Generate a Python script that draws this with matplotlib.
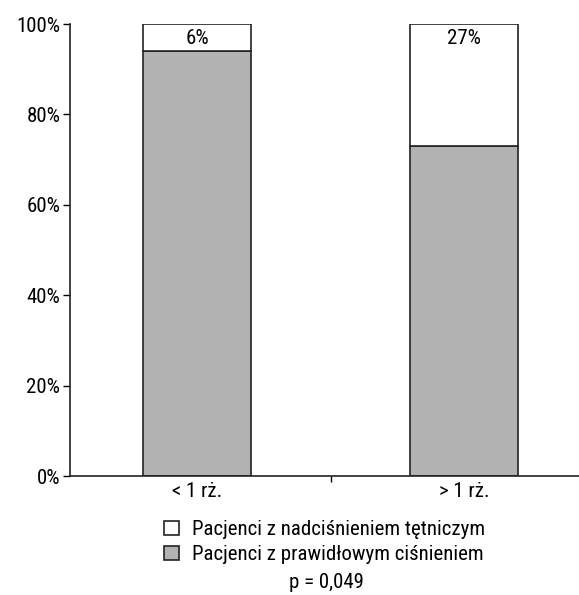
import matplotlib
matplotlib.use("Agg")
import matplotlib.pyplot as plt
from matplotlib.patches import Patch
from matplotlib.ticker import FixedLocator

plt.rcParams['font.family'] = ['Roboto Condensed', 'Archivo Narrow', 'DejaVu Sans']

categories = ["< 1 rż.", "> 1 rż."]
normal = [94, 73]
hypert = [6, 27]
labels = ["6%", "27%"]
yticks = [0, 20, 40, 60, 80, 100]
ytick_labels = ["0%", "20%", "40%", "60%", "80%", "100%"]
legend_labels = ["Pacjenci z nadciśnieniem tętniczym", "Pacjenci z prawidłowym ciśnieniem"]
p_text = "p = 0,049"

FS = 15
W, H = 579, 595
fig = plt.figure(figsize=(W / 100, H / 100), dpi=100)
ax = fig.add_axes([70 / W, 1 - 476 / H, (W - 70) / W, (476 - 24) / H])

x = list(range(len(categories)))
gray = "#b2b2b2"
edge = "#222222"
ax.bar(x, normal, width=0.408, color=gray, edgecolor=edge, linewidth=1.2)
ax.bar(x, hypert, bottom=normal, width=0.408, color="white", edgecolor=edge, linewidth=1.2)
for xi, lab in zip(x, labels):
    ax.text(xi, 96.9, lab, ha='center', va='center', fontsize=FS)

ax.set_xlim(-0.476, 1.431)
ax.set_ylim(0, 100)
ax.set_yticks(yticks)
ax.set_yticklabels(ytick_labels, fontsize=FS)
ax.set_xticks(x)
ax.set_xticklabels(categories, fontsize=FS)
ax.tick_params(axis='x', which='major', length=0, pad=4)
ax.xaxis.set_minor_locator(FixedLocator([0.5]))
ax.tick_params(axis='x', which='minor', length=4, direction='out', width=1)
ax.tick_params(axis='y', length=5, width=1, direction='out', pad=2)
for s in ['top', 'right']:
    ax.spines[s].set_visible(False)
for s in ['left', 'bottom']:
    ax.spines[s].set_linewidth(1.2)
    ax.spines[s].set_color("#222222")

handles = [Patch(facecolor="white", edgecolor=edge, linewidth=1.2),
           Patch(facecolor=gray, edgecolor=edge, linewidth=1.2)]
fig.legend(handles, legend_labels, loc='upper left',
           bbox_to_anchor=(164 / W, 1 - 520 / H), frameon=False, fontsize=FS,
           handlelength=0.72, handleheight=0.68, handletextpad=0.6, labelspacing=0.3,
           borderpad=0, borderaxespad=0)
fig.text(326 / W, 1 - 582 / H, p_text, ha='center', va='center', fontsize=FS)

fig.savefig("out.png", dpi=100)
